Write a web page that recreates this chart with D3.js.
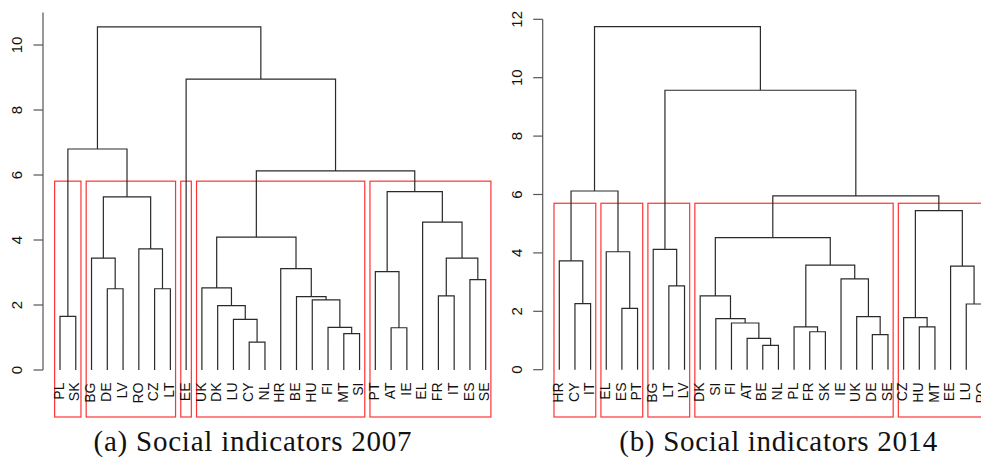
<!DOCTYPE html>
<html>
<head>
<meta charset="utf-8">
<script src="https://cdn.jsdelivr.net/npm/d3@7"></script>
<style>
  html, body { margin: 0; padding: 0; background: #fff; }
  svg { display: block; }
</style>
</head>
<body>
<svg id="chart" width="981" height="457"></svg>
<script>
// ---------------- DATA ----------------
// Leaf order as drawn (left to right)
const labels2007 = ["PL","SK","BG","DE","LV","RO","CZ","LT","EE","UK","DK","LU","CY","NL","HR","BE","HU","FI","MT","SI","PT","AT","IE","EL","FR","IT","ES","SE"];
const labels2014 = ["HR","CY","IT","EL","ES","PT","BG","LT","LV","DK","SI","FI","AT","BE","NL","PL","FR","SK","IE","UK","DE","SE","CZ","HU","MT","EE","LU","RO"];

// hclust-style merges: [left, right, height]; negative = leaf (1-based in label order), positive = earlier merge row (1-based)
const merges2007 = [
  [-13,-14,0.86],[-19,-20,1.12],[-22,-23,1.30],[-18,2,1.31],[-12,1,1.56],
  [-1,-2,1.65],[-11,5,1.98],[-17,4,2.16],[-16,8,2.26],[-25,-26,2.28],
  [-4,-5,2.50],[-7,-8,2.50],[-10,7,2.53],[-27,-28,2.78],[-21,3,3.03],
  [-15,9,3.12],[-3,11,3.44],[10,14,3.44],[-6,12,3.73],[13,16,4.09],
  [-24,18,4.55],[17,19,5.33],[15,21,5.49],[20,23,6.13],[6,22,6.80],
  [-9,24,8.95],[25,26,10.56]
];
const merges2014 = [
  [-14,-15,0.83],[-13,1,1.07],[-21,-22,1.20],[-17,-18,1.30],[-16,4,1.47],
  [-24,-25,1.47],[-12,2,1.60],[-11,7,1.75],[-23,6,1.78],[-20,3,1.82],
  [-5,-6,2.10],[-27,-28,2.25],[-2,-3,2.26],[-10,8,2.53],[-8,-9,2.87],
  [-19,10,3.11],[-26,12,3.55],[5,16,3.58],[-1,13,3.73],[-4,11,4.04],
  [-7,15,4.12],[14,18,4.52],[9,17,5.45],[22,23,5.95],[19,20,6.12],
  [21,24,9.57],[25,26,11.75]
];

// Cluster sizes (k = 5) in leaf order, for the red boxes
const clusters2007 = [2,6,1,11,8];
const clusters2014 = [3,3,3,13,6];

// Axis ticks
const ticks2007 = [0,2,4,6,8,10];
const ticks2014 = [0,2,4,6,8,10,12];

const titles = ["(a) Social indicators 2007", "(b) Social indicators 2014"];

// ---------------- DRAW ----------------
const svg = d3.select("#chart");

function drawPanel(cfg) {
  const {labels, merges, clusters, ticks, title, x, y, axisX, axisTop, titleX} = cfg;
  const g = svg.append("g");

  // compute node positions
  const nodeX = m => m < 0 ? x(-m) : pos[m - 1].x;
  const nodeY = m => m < 0 ? 0 : pos[m - 1].h;
  const pos = [];
  merges.forEach(([a, b, h]) => {
    pos.push({x: (nodeX(a) + nodeX(b)) / 2, h});
  });

  // red cluster boxes (rect.hclust)
  const hs = merges.map(d => d[2]).sort((p, q) => q - p);
  const k = clusters.length;
  const boxTop = (hs[k - 2] + hs[k - 1]) / 2;
  let start = 1;
  clusters.forEach(n => {
    const x0 = x(start - 0.34), x1 = x(start + n - 1 + 0.33);
    g.append("rect")
      .attr("x", x0).attr("y", y(boxTop))
      .attr("width", x1 - x0).attr("height", 417 - y(boxTop))
      .attr("fill", "none").attr("stroke", "#ff3333").attr("stroke-width", 1.2);
    start += n;
  });

  // dendrogram segments
  const path = d3.path();
  merges.forEach(([a, b, h]) => {
    const xa = nodeX(a), xb = nodeX(b);
    path.moveTo(xa, y(nodeY(a)));
    path.lineTo(xa, y(h));
    path.lineTo(xb, y(h));
    path.lineTo(xb, y(nodeY(b)));
  });
  g.append("path").attr("d", path.toString())
    .attr("fill", "none").attr("stroke", "#2a2a2a").attr("stroke-width", 1.2);

  // leaf labels
  g.selectAll("text.leaf").data(labels).join("text")
    .attr("class", "leaf")
    .attr("transform", (d, i) => `translate(${x(i + 1) + 3.7},382.5) rotate(-90)`)
    .attr("text-anchor", "end")
    .attr("font-family", "Liberation Sans, Arial, sans-serif")
    .attr("font-size", 14)
    .attr("fill", "#111")
    .text(d => d);

  // y axis
  const axis = g.append("g");
  axis.append("line")
    .attr("x1", axisX).attr("x2", axisX)
    .attr("y1", y(0)).attr("y2", y(axisTop))
    .attr("stroke", "#555").attr("stroke-width", 1.2);
  axis.selectAll("line.tick").data(ticks).join("line")
    .attr("class", "tick")
    .attr("x1", axisX - 9.5).attr("x2", axisX)
    .attr("y1", d => y(d)).attr("y2", d => y(d))
    .attr("stroke", "#555").attr("stroke-width", 1.2);
  axis.selectAll("text").data(ticks).join("text")
    .attr("transform", d => `translate(${axisX - 21},${y(d)}) rotate(-90)`)
    .attr("text-anchor", "middle")
    .attr("font-family", "Liberation Sans, Arial, sans-serif")
    .attr("font-size", 15)
    .attr("fill", "#111")
    .text(d => d);

  // title
  g.append("text")
    .attr("x", titleX).attr("y", 451)
    .attr("text-anchor", "middle")
    .attr("font-family", "Liberation Serif, Times New Roman, serif")
    .attr("font-size", 29)
    .attr("textLength", 318)
    .attr("lengthAdjust", "spacing")
    .attr("fill", "#111")
    .text(title);
}

drawPanel({
  labels: labels2007, merges: merges2007, clusters: clusters2007, ticks: ticks2007,
  title: titles[0],
  x: d3.scaleLinear().domain([1, 28]).range([60, 485.7]),
  y: d3.scaleLinear().domain([0, 10]).range([370, 45]),
  axisX: 43, axisTop: 11, titleX: 252.5
});

drawPanel({
  labels: labels2014, merges: merges2014, clusters: clusters2014, ticks: ticks2014,
  title: titles[1],
  x: d3.scaleLinear().domain([1, 28]).range([559.3, 981.9]),
  y: d3.scaleLinear().domain([0, 12]).range([369.7, 19.3]),
  axisX: 542.7, axisTop: 12, titleX: 778.3
});
</script>
</body>
</html>
